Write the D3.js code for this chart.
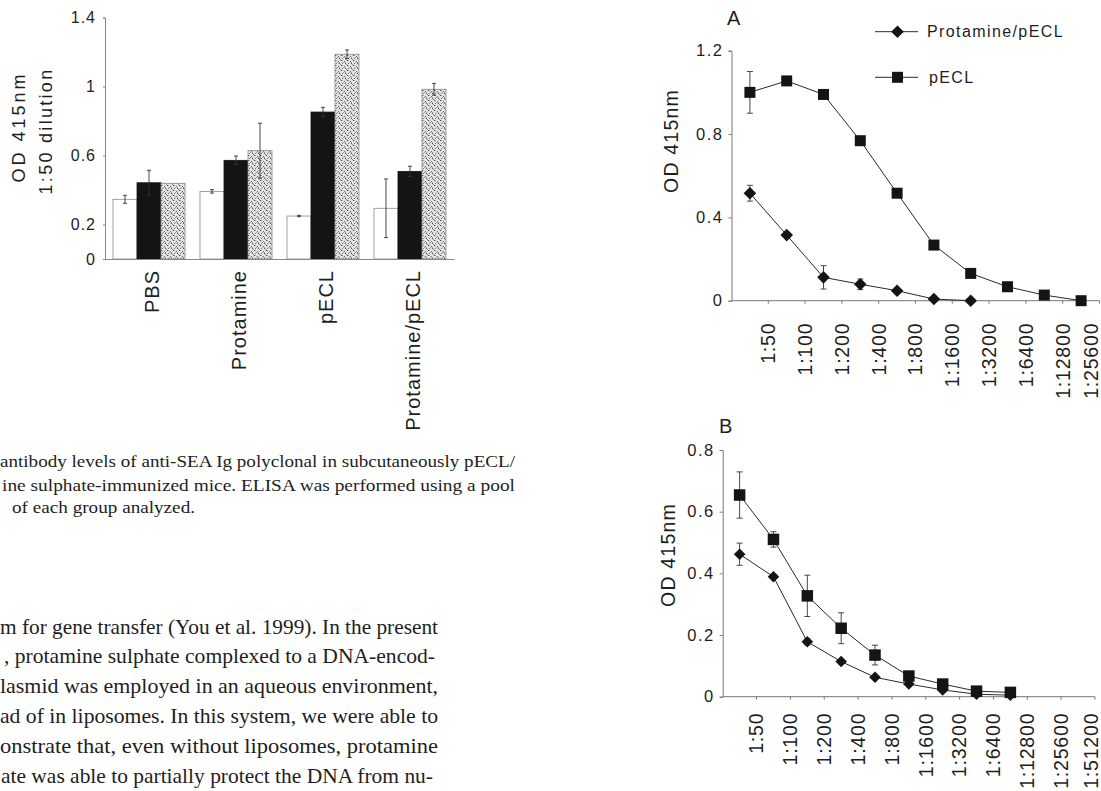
<!DOCTYPE html>
<html>
<head>
<meta charset="utf-8">
<script src="https://cdn.jsdelivr.net/npm/d3@7"></script>
<style>
  body { margin: 0; background: #fff; }
  svg { display: block; }
</style>
</head>
<body>
<svg width="1101" height="791"></svg>
<script>
// ---- bar chart (1:50 dilution) ----
const groups = ["PBS", "Protamine", "pECL", "Protamine/pECL"];
const barSeries = ["white", "black", "dotted"];
const barValues = [
  [0.346, 0.442, 0.439],
  [0.392, 0.572, 0.628],
  [0.249, 0.852, 1.187],
  [0.294, 0.508, 0.984]
];
const barErrors = [
  [0.023, 0.072, 0],
  [0.01, 0.025, 0.159],
  [0.004, 0.027, 0.025],
  [0.17, 0.03, 0.034]
];
const barTicks = [0, 0.2, 0.6, 1, 1.4];

// ---- panel A ----
const dilA = ["1:50", "1:100", "1:200", "1:400", "1:800", "1:1600", "1:3200", "1:6400", "1:12800", "1:25600"];
const pEclA = [1.0, 1.055, 0.99, 0.768, 0.516, 0.267, 0.131, 0.067, 0.027, 0.0];
const pEclAErr = [0.1, 0, 0, 0.02, 0.015, 0, 0, 0, 0, 0];
const protA = [0.516, 0.315, 0.112, 0.079, 0.048, 0.008, 0.0];
const protAErr = [0.038, 0, 0.056, 0.025, 0, 0, 0];
const ticksA = [0, 0.4, 0.8, 1.2];

// ---- panel B ----
const dilB = ["1:50", "1:100", "1:200", "1:400", "1:800", "1:1600", "1:3200", "1:6400", "1:12800", "1:25600", "1:51200"];
const pEclB = [0.654, 0.51, 0.327, 0.222, 0.135, 0.067, 0.041, 0.018, 0.014];
const pEclBErr = [0.075, 0.025, 0.067, 0.05, 0.032, 0.01, 0, 0, 0];
const protB = [0.462, 0.389, 0.178, 0.114, 0.063, 0.041, 0.022, 0.008, 0.005];
const protBErr = [0.036, 0, 0.01, 0, 0, 0, 0, 0, 0];
const ticksB = [0, 0.2, 0.4, 0.6, 0.8];

// ---- page text ----
const captionLines = [
  "antibody levels of anti-SEA Ig polyclonal in subcutaneously pECL/",
  "ine sulphate-immunized mice. ELISA was performed using a pool",
  "of each group analyzed."
];
const bodyLines = [
  "m for gene transfer (You et al. 1999). In the present",
  ", protamine sulphate complexed to a DNA-encod-",
  "lasmid was employed in an aqueous environment,",
  "ad of in liposomes. In this system, we were able to",
  "onstrate that, even without liposomes, protamine",
  "ate was able to partially protect the DNA from nu-"
];

const SANS = "'Liberation Sans', Arial, sans-serif";
const SERIF = "'Liberation Serif', 'Times New Roman', serif";
const INK = "#1e1e1e";

const svg = d3.select("svg");
const defs = svg.append("defs");

// stipple fill for the third bar series
const pat = defs.append("pattern")
  .attr("id", "stipple")
  .attr("patternUnits", "userSpaceOnUse")
  .attr("width", 6).attr("height", 5);
pat.append("rect").attr("width", 6).attr("height", 5).attr("fill", "#e4e4e4");
[[0, 0, "#444"], [3, 1, "#666"], [1, 3, "#777"], [4, 3, "#555"], [2, 2, "#999"], [5, 4, "#888"], [1, 0, "#aaa"], [4, 2, "#999"]]
  .forEach(([px, py, c]) => pat.append("rect").attr("x", px).attr("y", py)
    .attr("width", 1).attr("height", 1).attr("fill", c));

// ================= bar chart =================
const x0 = d3.scaleBand().domain(groups).range([105, 454])
  .paddingInner(0.172).paddingOuter(0.092);
const x1 = d3.scaleBand().domain(barSeries).range([0, x0.bandwidth()]);
const yBar = d3.scaleLinear().domain([0, 1.4]).range([259, 17.5]);

const barG = svg.append("g");

barG.append("g")
  .attr("transform", "translate(105,0)")
  .call(d3.axisLeft(yBar).tickValues(barTicks).tickSize(2).tickFormat(d3.format("~g")))
  .call(g => g.select(".domain").attr("stroke", "#888"))
  .call(g => g.selectAll(".tick line").attr("stroke", "#888"))
  .call(g => g.selectAll("text")
    .attr("font-family", SANS).attr("font-size", 16).attr("fill", INK)
    .attr("letter-spacing", 1).attr("x", -9));

const groupsG = barG.selectAll(".grp")
  .data(groups)
  .enter()
  .append("g")
  .attr("transform", d => `translate(${x0(d)},0)`);

groupsG.each(function (grp, gi) {
  const g = d3.select(this);
  const rows = barSeries.map((s, si) => ({ s, v: barValues[gi][si], e: barErrors[gi][si] }));
  g.selectAll("rect")
    .data(rows)
    .enter()
    .append("rect")
    .attr("x", d => x1(d.s))
    .attr("width", x1.bandwidth())
    .attr("y", d => yBar(d.v))
    .attr("height", d => yBar(0) - yBar(d.v))
    .attr("fill", d => d.s === "white" ? "#fff" : d.s === "black" ? "#141414" : "url(#stipple)")
    .attr("stroke", d => d.s === "black" ? "#141414" : "#8a8a8a")
    .attr("stroke-width", 0.8);
  const err = g.selectAll(".err")
    .data(rows.filter(d => d.e > 0))
    .enter()
    .append("g")
    .attr("stroke", "#333").attr("stroke-width", 0.9);
  const cx = d => x1(d.s) + x1.bandwidth() / 2;
  err.append("line").attr("x1", cx).attr("x2", cx)
    .attr("y1", d => yBar(d.v + d.e)).attr("y2", d => yBar(d.v - d.e));
  err.append("line").attr("x1", d => cx(d) - 2).attr("x2", d => cx(d) + 2)
    .attr("y1", d => yBar(d.v + d.e)).attr("y2", d => yBar(d.v + d.e));
  err.append("line").attr("x1", d => cx(d) - 2).attr("x2", d => cx(d) + 2)
    .attr("y1", d => yBar(d.v - d.e)).attr("y2", d => yBar(d.v - d.e));
});

barG.append("g")
  .attr("transform", "translate(0,259)")
  .call(d3.axisBottom(x0).tickSize(0).tickSizeOuter(0))
  .call(g => g.select(".domain").attr("stroke", "#888"))
  .call(g => g.selectAll("text")
    .attr("font-family", SANS).attr("font-size", 20).attr("fill", INK)
    .attr("letter-spacing", 1)
    .attr("text-anchor", "end")
    .attr("transform", "rotate(-90)")
    .attr("x", -11).attr("y", 10).attr("dy", 0));

barG.append("text")
  .attr("transform", "translate(25,127) rotate(-90)")
  .attr("text-anchor", "middle")
  .attr("font-family", SANS).attr("font-size", 18).attr("letter-spacing", 3)
  .attr("fill", INK)
  .text("OD 415nm");
barG.append("text")
  .attr("transform", "translate(52,131) rotate(-90)")
  .attr("text-anchor", "middle")
  .attr("font-family", SANS).attr("font-size", 18).attr("letter-spacing", 2.3)
  .attr("fill", INK)
  .text("1:50 dilution");

// ================= page text =================
const capLayout = [[0, 467, 515], [2, 490.5, 515], [12, 513, 195]];
svg.append("g").selectAll("text")
  .data(captionLines)
  .enter()
  .append("text")
  .attr("x", (d, i) => capLayout[i][0])
  .attr("y", (d, i) => capLayout[i][1])
  .attr("textLength", (d, i) => capLayout[i][2] - capLayout[i][0])
  .attr("lengthAdjust", "spacingAndGlyphs")
  .attr("font-family", SERIF).attr("font-size", 17.5).attr("fill", INK)
  .text(d => d);

const bodyLayout = [[0, 633.5, 438], [4, 663.3, 435], [0, 693, 438], [0, 723, 438], [0, 753, 438], [1, 782.7, 433]];
svg.append("g").selectAll("text")
  .data(bodyLines)
  .enter()
  .append("text")
  .attr("x", (d, i) => bodyLayout[i][0])
  .attr("y", (d, i) => bodyLayout[i][1])
  .attr("textLength", (d, i) => bodyLayout[i][2] - bodyLayout[i][0])
  .attr("lengthAdjust", "spacingAndGlyphs")
  .attr("font-family", SERIF).attr("font-size", 21.5).attr("fill", INK)
  .text(d => d);

// ================= line charts =================
const diamond = r => `M0,${-r}L${r},0L0,${r}L${-r},0Z`;
const square = s => `M${-s / 2},${-s / 2}h${s}v${s}h${-s}Z`;
const LABEL_MAX_X = 1091;

function linePanel(o) {
  const g = svg.append("g");
  const x = d3.scaleBand().domain(o.cats).range(o.xRange);
  const y = d3.scaleLinear().domain([0, o.yMax]).range(o.yRange);
  const step = x.step();
  const cx = (d, i) => x(o.cats[i]) + x.bandwidth() / 2;

  // y axis
  g.append("g")
    .attr("transform", `translate(${o.xRange[0]},0)`)
    .call(d3.axisLeft(y).tickValues(o.ticks).tickSize(3).tickFormat(d3.format("~g")))
    .call(a => a.select(".domain").attr("stroke", "#777"))
    .call(a => a.selectAll(".tick line").attr("stroke", "#777"))
    .call(a => a.selectAll("text")
      .attr("font-family", SANS).attr("font-size", 16.5).attr("fill", INK)
      .attr("letter-spacing", 1.5).attr("x", -8));

  // x axis: ticks and labels sit on the band boundaries
  g.append("line")
    .attr("x1", o.xRange[0]).attr("x2", o.xRange[1])
    .attr("y1", y(0)).attr("y2", y(0))
    .attr("stroke", "#777");
  g.append("g")
    .attr("transform", `translate(${step / 2},${y(0)})`)
    .call(d3.axisBottom(x).tickSize(3).tickSizeOuter(0))
    .call(a => a.select(".domain").remove())
    .call(a => a.selectAll(".tick line").attr("stroke", "#777"))
    .call(a => a.selectAll("text")
      .attr("font-family", SANS).attr("font-size", 19.5).attr("fill", INK)
      .attr("letter-spacing", 0.8)
      .attr("text-anchor", "end")
      .attr("transform", "rotate(-90)")
      .attr("x", -o.labelGap)
      // labels near the page edge are pulled back inside it
      .attr("y", d => Math.min(0, LABEL_MAX_X - (x(d) + step)))
      .attr("dy", "0.35em"));

  // y title and panel letter
  g.append("text")
    .attr("transform", `translate(${o.titleX},${o.titleY}) rotate(-90)`)
    .attr("text-anchor", "middle")
    .attr("font-family", SANS).attr("font-size", 19.5).attr("letter-spacing", 1.2)
    .attr("fill", INK)
    .text("OD 415nm");
  g.append("text")
    .attr("x", o.letterX).attr("y", o.letterY)
    .attr("font-family", SANS).attr("font-size", 20).attr("fill", INK)
    .text(o.letter);

  const line = d3.line().x(cx).y(d => y(d));

  o.series.forEach(s => {
    g.append("path")
      .datum(s.values)
      .attr("d", line)
      .attr("fill", "none")
      .attr("stroke", "#2a2a2a")
      .attr("stroke-width", 1);
    const eg = g.append("g").attr("stroke", "#333").attr("stroke-width", 0.9);
    s.values.forEach((v, i) => {
      const e = s.errors[i];
      if (!e) return;
      const px = cx(v, i);
      eg.append("line").attr("x1", px).attr("x2", px).attr("y1", y(v + e)).attr("y2", y(v - e));
      eg.append("line").attr("x1", px - 3).attr("x2", px + 3).attr("y1", y(v + e)).attr("y2", y(v + e));
      eg.append("line").attr("x1", px - 3).attr("x2", px + 3).attr("y1", y(v - e)).attr("y2", y(v - e));
    });
    g.selectAll(null)
      .data(s.values)
      .enter()
      .append("path")
      .attr("d", s.shape)
      .attr("transform", (d, i) => `translate(${cx(d, i)},${y(d)})`)
      .attr("fill", "#141414");
  });
  return g;
}

const panelA = linePanel({
  cats: dilA, xRange: [731.5, 1099.5], yMax: 1.2, yRange: [300.7, 50.7], ticks: ticksA,
  labelGap: 22, titleX: 678, titleY: 141, letter: "A", letterX: 727, letterY: 25,
  series: [
    { values: pEclA, errors: pEclAErr, shape: square(11) },
    { values: protA, errors: protAErr, shape: diamond(6.3) }
  ]
});

const panelB = linePanel({
  cats: dilB, xRange: [722.7, 1095], yMax: 0.8, yRange: [696.7, 450], ticks: ticksB,
  labelGap: 16, titleX: 675, titleY: 555, letter: "B", letterX: 719, letterY: 433,
  series: [
    { values: pEclB, errors: pEclBErr, shape: square(11.5) },
    { values: protB, errors: protBErr, shape: diamond(5.8) }
  ]
});

// legend for panel A
const legendItems = [
  { label: "Protamine/pECL", shape: diamond(6.3), y: 31.7, tx: 927 },
  { label: "pECL", shape: square(11), y: 77.3, tx: 929 }
];
const leg = panelA.selectAll(".leg")
  .data(legendItems)
  .enter()
  .append("g");
leg.append("line")
  .attr("x1", 875).attr("x2", 918)
  .attr("y1", d => d.y).attr("y2", d => d.y)
  .attr("stroke", "#2a2a2a");
leg.append("path")
  .attr("d", d => d.shape)
  .attr("transform", d => `translate(897.5,${d.y})`)
  .attr("fill", "#141414");
leg.append("text")
  .attr("x", d => d.tx).attr("y", d => d.y).attr("dy", "0.35em")
  .attr("font-family", SANS).attr("font-size", 16).attr("letter-spacing", 1.4)
  .attr("fill", INK)
  .text(d => d.label);
</script>
</body>
</html>
